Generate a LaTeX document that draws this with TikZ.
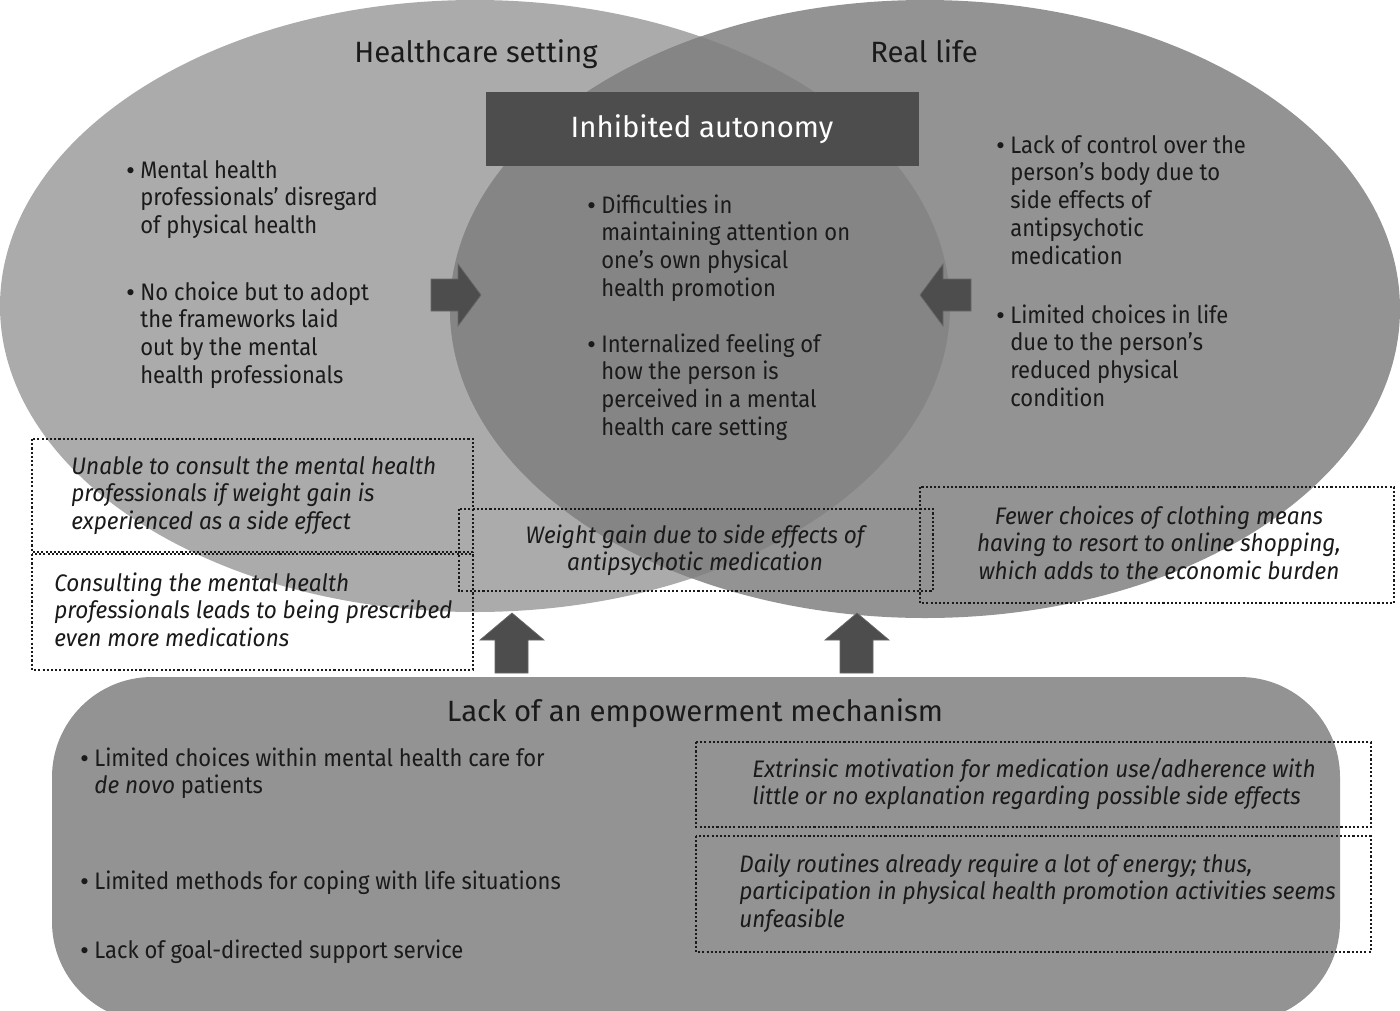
\documentclass[tikz,border=0pt]{standalone}
\usepackage{fontspec}
\setmainfont{Fira Sans}[FakeStretch=0.92, ItalicFeatures={FakeStretch=0.945}]
\newfontfamily\titlefamily{Fira Sans}
\newfontfamily\bulletfamily{DejaVu Sans}
\definecolor{lgray}{HTML}{ABABAB}
\definecolor{rgray}{HTML}{939393}
\definecolor{lensgray}{HTML}{858585}
\definecolor{darkgray}{HTML}{4D4D4D}
\definecolor{txt}{HTML}{1A1A1A}
\newcommand\bodyfont{\fontsize{13.6pt}{15.93pt}\selectfont}
\newcommand\titfont{\titlefamily\fontsize{16.7pt}{19pt}\selectfont}
\newcommand\bulitem[1]{\makebox[9.1pt][l]{\bulletfamily\fontsize{12pt}{15.93pt}\selectfont •}\begin{tabular}[t]{@{}l@{}}#1\end{tabular}}
\newcommand\leftlines[1]{\begin{tabular}[t]{@{}l@{}}#1\end{tabular}}
\newcommand\centerlines[1]{\begin{tabular}[t]{@{}c@{}}#1\end{tabular}}
\tikzset{
  body/.style={inner sep=0pt, font=\bodyfont, text=txt, anchor=base west},
  bodyit/.style={body, font=\bodyfont\itshape},
  bodyitc/.style={bodyit, anchor=base},
  title/.style={inner sep=0pt, font=\titfont, text=txt, anchor=base},
  dbox/.style={draw=txt, line width=0.9pt, dash pattern=on 1.2pt off 1.2pt},
  blockarrow/.style={fill=darkgray, draw=darkgray!85!white, line width=0.4pt},
}
\begin{document}
\begin{tikzpicture}[x=0.02cm,y=-0.02cm]
\useasboundingbox (0,0) rectangle (1400,1011);
\fill[white] (0,0) rectangle (1400,1011);
% ellipses
\fill[lgray] (475,306) ellipse [x radius=475, y radius=306];
\fill[rgray] (925,309) ellipse [x radius=475, y radius=309];
\begin{scope}
  \clip (475,306) ellipse [x radius=475, y radius=306];
  \fill[lensgray] (925,309) ellipse [x radius=475, y radius=309];
\end{scope}
% bottom rounded box
\fill[rgray, rounded corners=57pt] (52,677) rectangle (1340,1022);
% header box
\fill[darkgray] (486,92) rectangle (919,166);
% block arrows
\fill[blockarrow] (431,279) -- (458,279) -- (458,264) -- (481,295) -- (458,326) -- (458,311) -- (431,311) -- cycle;
\fill[blockarrow] (971,279) -- (943,279) -- (943,264) -- (920,295) -- (943,326) -- (943,311) -- (971,311) -- cycle;
\fill[blockarrow] (495,673) -- (495,640) -- (480,640) -- (512,613) -- (544,640) -- (528,640) -- (528,673) -- cycle;
\fill[blockarrow] (840,673) -- (840,640) -- (825,640) -- (857,613) -- (889,640) -- (873,640) -- (873,673) -- cycle;
% dotted boxes
\draw[dbox] (32,439) rectangle (473,552);
\draw[dbox] (32,554) rectangle (473,670);
\draw[dbox] (459,509) rectangle (933,591);
\draw[dbox] (920,487) rectangle (1394,603);
\draw[dbox] (696,742) rectangle (1371,827);
\draw[dbox] (696,836) rectangle (1371,952);
% titles
\node[title] (hc) at (476,62) {Healthcare setting};
\node[title] (rl) at (924,62) {Real life};
\node[title, text=white] (ia) at (702,137) {Inhibited autonomy};
\node[title] (lem) at (695,721) {Lack of an empowerment mechanism};
% left ellipse bullets
\node[body] (l1) at (124,178) {\bulitem{Mental health\\professionals’ disregard\\of physical health}};
\node[body] (l2) at (124,300) {\bulitem{No choice but to adopt\\the frameworks laid\\out by the mental\\health professionals}};
% centre bullets
\node[body] (c1) at (585,213) {\bulitem{Difficulties in\\maintaining attention on\\one’s own physical\\health promotion}};
\node[body] (c2) at (585,352) {\bulitem{Internalized feeling of\\how the person is\\perceived in a mental\\health care setting}};
% right ellipse bullets
\node[body] (r1) at (994,153) {\bulitem{Lack of control over the\\person’s body due to\\side effects of\\antipsychotic\\medication}};
\node[body] (r2) at (994,323) {\bulitem{Limited choices in life\\due to the person’s\\reduced physical\\condition}};
% dotted box texts
\node[bodyit] (d1) at (71,474) {\leftlines{Unable to consult the mental health\\professionals if weight gain is\\experienced as a side effect}};
\node[bodyit] (d2) at (54,591) {\leftlines{Consulting the mental health\\professionals leads to being prescribed\\even more medications}};
\node[bodyitc] (d3) at (695,543) {\centerlines{Weight gain due to side effects of\\antipsychotic medication}};
\node[bodyitc] (d4) at (1159,524) {\centerlines{Fewer choices of clothing means\\having to resort to online shopping,\\which adds to the economic burden}};
% bottom bullets
\node[body] (e1) at (78,766) {\bulitem{Limited choices within mental health care for\\\textit{de novo} patients}};
\node[body] (e2) at (78,889) {\bulitem{Limited methods for coping with life situations}};
\node[body] (e3) at (78,958) {\bulitem{Lack of goal-directed support service}};
\node[bodyit] (d5) at (752,777) {\leftlines{Extrinsic motivation for medication use/adherence with\\little or no explanation regarding possible side effects}};
\node[bodyit] (d6) at (739,872) {\leftlines{Daily routines already require a lot of energy; thus,\\participation in physical health promotion activities seems\\unfeasible}};
\end{tikzpicture}
\end{document}
